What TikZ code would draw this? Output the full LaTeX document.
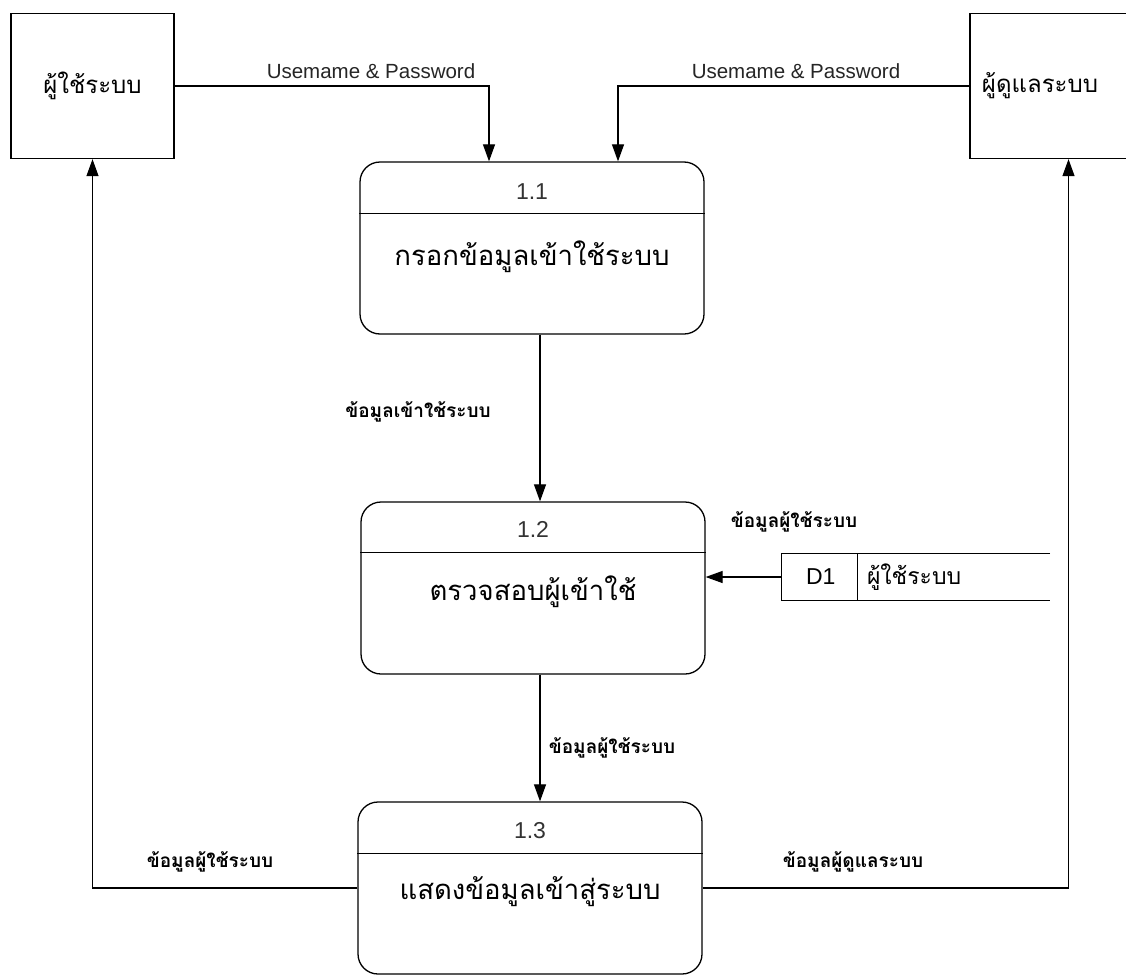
\documentclass[tikz,border=0pt]{standalone}
\usepackage{fontspec}
\setmainfont{Liberation Sans}
\newfontfamily\thai[Script=Thai]{Loma}
\usetikzlibrary{arrows.meta}
\tikzset{
  x=1pt,y=-1pt,
  ent/.style={draw,line width=1.3pt,minimum width=163pt,minimum height=145pt,inner sep=0pt,font=\thai\fontsize{24}{28}\selectfont},
  proc/.style={draw,line width=1.3pt,rounded corners=20pt,minimum width=344pt,minimum height=172pt,inner sep=0pt},
  flow/.style={draw,line width=1.2pt,-{Triangle[width=12pt,length=17pt]}},
  lat/.style={font=\fontsize{20.5}{24}\selectfont,text=black!85,inner sep=0pt},
  num/.style={font=\fontsize{23}{26}\selectfont,text=black!80,inner sep=0pt},
  ptxt/.style={font=\thai\fontsize{27.5}{32}\selectfont,inner sep=0pt},
  lbl/.style={font=\thai\bfseries\fontsize{19}{22}\selectfont,inner sep=0pt},
  store/.style={minimum width=268pt,minimum height=47pt,inner sep=0pt}
}
\begin{document}
\begin{tikzpicture}
\clip (0,0) rectangle (1126,974);
\fill[white] (0,0) rectangle (1126,974);
% external entities
\node[ent] (e1) at (92.5,86) {ผู้ใช้ระบบ};
\node[ent,minimum width=165pt] (e2) at (1052.5,86) {\hspace*{-25pt}ผู้ดูแลระบบ};
% processes
\node[proc] (p1) at (532,248) {};
\node[proc] (p2) at (533,588) {};
\node[proc] (p3) at (530,888) {};
\draw[line width=1.3pt] ([yshift=-52pt]p1.north west) -- ([yshift=-52pt]p1.north east);
\draw[line width=1.3pt] ([yshift=-51pt]p2.north west) -- ([yshift=-51pt]p2.north east);
\draw[line width=1.3pt] ([yshift=-52pt]p3.north west) -- ([yshift=-52pt]p3.north east);
\node[num] (n1) at ([yshift=-30pt]p1.north) {1.1};
\node[ptxt] (t1) at ([yshift=-95pt]p1.north) {กรอกข้อมูลเข้าใช้ระบบ};
\node[num] (n2) at ([yshift=-28pt]p2.north) {1.2};
\node[ptxt] (t2) at ([yshift=-90pt]p2.north) {ตรวจสอบผู้เข้าใช้};
\node[num] (n3) at ([yshift=-29pt]p3.north) {1.3};
\node[ptxt] (t3) at ([yshift=-90pt]p3.north) {แสดงข้อมูลเข้าสู่ระบบ};
% data store
\node[store] (ds) at (916,577) {};
\draw[line width=1.3pt] (ds.north east) -- (ds.north west) -- (ds.south west) -- (ds.south east);
\draw[line width=1.3pt] ([xshift=76pt]ds.north west) -- ([xshift=76pt]ds.south west);
\node[num,text=black] (dsid) at ([xshift=39pt]ds.west) {D1};
\node[font=\thai\fontsize{23}{26}\selectfont,anchor=west,inner sep=0pt] (dsname) at ([xshift=85pt]ds.west) {ผู้ใช้ระบบ};
% flows
\draw[flow] (e1.east) -| ([xshift=-43pt]p1.north);
\draw[flow] (e2.west) -| ([xshift=86pt]p1.north);
\draw[flow] ([xshift=8pt]p1.south) -- ([xshift=7pt]p2.north);
\draw[flow] (ds.west) -- (ds.west -| p2.east);
\draw[flow] ([xshift=7pt]p2.south) -- ([xshift=10pt]p3.north);
\draw[flow] (p3.west) -| (e1.south);
\draw[flow] (p3.east) -| ([xshift=16pt]e2.south);
% labels
\node[lat] (l1) at (371,71) {Usemame \& Password};
\node[lat] (l2) at (796,71) {Usemame \& Password};
\node[lbl] (l3) at (418,412) {ข้อมูลเข้าใช้ระบบ};
\node[lbl] (l4) at (794,522) {ข้อมูลผู้ใช้ระบบ};
\node[lbl] (l5) at (612,748) {ข้อมูลผู้ใช้ระบบ};
\node[lbl] (l6) at (210,862) {ข้อมูลผู้ใช้ระบบ};
\node[lbl] (l7) at (853,862) {ข้อมูลผู้ดูแลระบบ};
\end{tikzpicture}
\end{document}
